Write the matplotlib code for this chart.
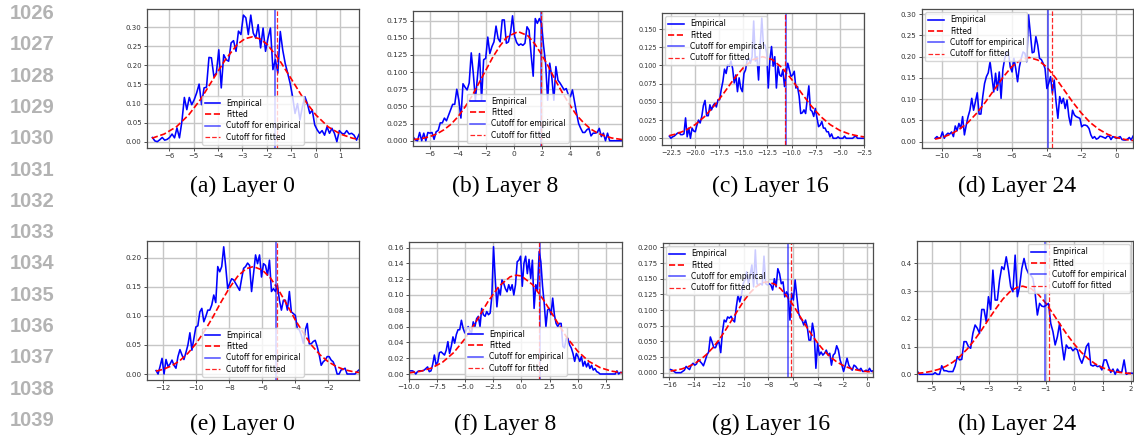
import matplotlib.pyplot as plt
import numpy as np
from matplotlib.ticker import MultipleLocator

# ---- data ----
captions = ['(a) Layer 0', '(b) Layer 8', '(c) Layer 16', '(d) Layer 24',
            '(e) Layer 0', '(f) Layer 8', '(g) Layer 16', '(h) Layer 24']
line_numbers = list(range(1026, 1040))

# empirical densities (evenly spaced bins between the given start/end)
emp_a = [0.011, 0.002, 0.0, 0.005, 0.011, 0.004, 0.006, 0.011, 0.02, 0.01,
         0.036, 0.01, 0.053, 0.116, 0.084, 0.116, 0.097, 0.11, 0.128, 0.151,
         0.097, 0.141, 0.143, 0.221, 0.22, 0.171, 0.18, 0.241, 0.141, 0.228,
         0.215, 0.211, 0.259, 0.265, 0.237, 0.29, 0.281, 0.332, 0.325, 0.281,
         0.332, 0.285, 0.272, 0.307, 0.246, 0.298, 0.237, 0.272, 0.298, 0.189,
         0.215, 0.18,
         0.289, 0.24, 0.205, 0.18, 0.153, 0.118, 0.074, 0.10, 0.057, 0.092,
         0.118, 0.10, 0.074, 0.083, 0.044, 0.031, 0.022, 0.029, 0.017, 0.039,
         0.022, 0.035, 0.022, 0.0, 0.029, 0.022, 0.02, 0.029, 0.02, 0.022,
         0.017, 0.004, 0.019]
emp_b = [0.005, 0.001, 0.0, 0.012, 0.0, 0.011, 0.0, 0.012, 0.011, 0.012,
         0.002, 0.013, 0.015, 0.026, 0.026, 0.033, 0.029, 0.037, 0.045, 0.053,
         0.053, 0.075, 0.059, 0.033, 0.083, 0.078, 0.074, 0.084, 0.128, 0.098,
         0.059, 0.093, 0.127, 0.059, 0.118, 0.12, 0.151, 0.127, 0.137, 0.144,
         0.167, 0.149, 0.144, 0.176, 0.176, 0.142, 0.144, 0.157, 0.182, 0.152,
         0.143, 0.139, 0.141, 0.139, 0.142, 0.166, 0.161, 0.125, 0.094, 0.178,
         0.171, 0.178, 0.171, 0.139, 0.113, 0.059, 0.113, 0.093, 0.059, 0.108,
         0.088, 0.084, 0.079, 0.074, 0.076, 0.067, 0.064, 0.074, 0.057, 0.04,
         0.025, 0.018, 0.012, 0.012, 0.016, 0.018, 0.007, 0.011, 0.011, 0.012,
         0.018, 0.006, 0.011, 0.0, 0.011, 0.0, 0.0, 0.0, 0.0, 0.0, 0.0, 0.0]
emp_c = [0.003, 0.0, 0.002, 0.003, 0.005, 0.007, 0.008, 0.005, 0.005, 0.006,
         0.028, 0.002, 0.014, 0.0, 0.014, 0.01, 0.009, 0.018, 0.025, 0.021,
         0.03, 0.045, 0.052, 0.031, 0.031, 0.046, 0.039, 0.045, 0.048, 0.043,
         0.053, 0.053, 0.067, 0.078, 0.095, 0.089, 0.101, 0.099, 0.106, 0.096,
         0.076, 0.087, 0.064, 0.083, 0.069, 0.064, 0.089, 0.094, 0.108, 0.110,
         0.103, 0.112, 0.161, 0.106, 0.112, 0.080, 0.126, 0.165, 0.128, 0.128,
         0.117, 0.069, 0.108, 0.126, 0.099, 0.112, 0.069, 0.099, 0.087, 0.085,
         0.094, 0.071, 0.089, 0.103, 0.094, 0.085, 0.087, 0.092, 0.069, 0.071,
         0.058, 0.034, 0.035, 0.039, 0.034, 0.053, 0.072, 0.039, 0.037, 0.03,
         0.041, 0.028, 0.016, 0.018, 0.023, 0.014, 0.014, 0.009, 0.009, 0.002,
         0.006, 0.0, 0.0, 0.0, 0.002, 0.0, 0.0, 0.0, 0.003, 0.0,
         0.0, 0.0, 0.0, 0.0, 0.002, 0.003, 0.0, 0.0, 0.0, 0.0, 0.0]
emp_d = [0.008, 0.012, 0.008, 0.010, 0.023, 0.008, 0.016, 0.020, 0.018, 0.023,
         0.012, 0.037, 0.026, 0.043, 0.031, 0.059, 0.016, 0.039, 0.059, 0.074,
         0.102, 0.074, 0.094, 0.115, 0.065, 0.065, 0.106, 0.137, 0.153, 0.162,
         0.188, 0.153, 0.117, 0.161, 0.121, 0.164, 0.102, 0.170, 0.196, 0.211,
         0.211, 0.176, 0.164, 0.196, 0.172, 0.141, 0.176, 0.196, 0.211, 0.208,
         0.188, 0.298, 0.254, 0.209, 0.211, 0.247, 0.227, 0.196, 0.193, 0.184,
         0.172, 0.125, 0.137, 0.153, 0.114, 0.145, 0.094, 0.055, 0.106, 0.090,
         0.102, 0.078, 0.098, 0.059, 0.039, 0.074, 0.063, 0.059, 0.057, 0.055,
         0.035, 0.039, 0.039, 0.037, 0.031,
         0.016, 0.008, 0.012, 0.006, 0.008, 0.013, 0.012, 0.010, 0.008, 0.013,
         0.013, 0.005, 0.012, 0.010, 0.008, 0.010, 0.012, 0.005, 0.004, 0.004,
         0.006, 0.010, 0.004, 0.013]
emp_e = [0.006, 0.0, 0.013, 0.027, 0.0, 0.025, 0.013, 0.017, 0.024, 0.015,
         0.01, 0.030, 0.042, 0.033, 0.025, 0.037, 0.050, 0.071, 0.041, 0.061,
         0.081, 0.083, 0.107, 0.113, 0.090, 0.099, 0.110, 0.110, 0.119, 0.136,
         0.123, 0.185, 0.176, 0.185, 0.219, 0.185, 0.147, 0.156, 0.164, 0.162,
         0.156, 0.150, 0.144, 0.164, 0.182, 0.185, 0.191, 0.187, 0.142, 0.173,
         0.205, 0.190, 0.205, 0.167, 0.190, 0.187, 0.170, 0.196, 0.142, 0.147,
         0.142, 0.153, 0.127, 0.110, 0.127, 0.127, 0.110, 0.142, 0.107, 0.104,
         0.101, 0.078, 0.076, 0.067, 0.053, 0.076, 0.087, 0.052, 0.052, 0.056,
         0.058, 0.047, 0.033, 0.015, 0.021, 0.024, 0.030, 0.030, 0.024, 0.021,
         0.013, 0.0, 0.0, 0.007, 0.008, 0.010, 0.0, 0.0, 0.0, 0.0,
         0.0, 0.004, 0.007]
emp_f = [0.004, 0.004, 0.004, 0.003, 0.0, 0.003, 0.004, 0.004, 0.004, 0.005,
         0.007, 0.009, 0.003, 0.004, 0.012, 0.024, 0.012, 0.015, 0.027, 0.028,
         0.026, 0.024, 0.03, 0.041, 0.026, 0.035, 0.047, 0.039, 0.05, 0.056,
         0.056, 0.068, 0.058, 0.052, 0.056, 0.060, 0.055, 0.052, 0.066, 0.060,
         0.07, 0.073, 0.06, 0.083, 0.075, 0.073, 0.079, 0.075, 0.077, 0.098,
         0.161, 0.121, 0.085, 0.108, 0.100, 0.119, 0.115, 0.108, 0.104, 0.113,
         0.106, 0.113, 0.100, 0.113, 0.142, 0.144, 0.149, 0.111, 0.140, 0.149,
         0.127, 0.145, 0.121, 0.144, 0.083, 0.113, 0.106, 0.155, 0.142, 0.111,
         0.089, 0.060, 0.081, 0.083, 0.075, 0.096, 0.075, 0.064, 0.060, 0.064,
         0.064, 0.035, 0.033, 0.045, 0.045, 0.037, 0.033, 0.026, 0.016, 0.026,
         0.022, 0.016, 0.022, 0.010, 0.016, 0.009, 0.014, 0.007, 0.011, 0.005,
         0.007,
         0.003, 0.002, 0.0, 0.0, 0.0, 0.0, 0.0, 0.0, 0.0, 0.0,
         0.0, 0.0, 0.004, 0.0, 0.002, 0.002]
emp_g = [0.005, 0.004, 0.002, 0.0, 0.0, 0.0, 0.0, 0.002, 0.004, 0.010,
         0.007, 0.005, 0.012, 0.015, 0.012, 0.014, 0.021, 0.018, 0.015, 0.011,
         0.019, 0.028,
         0.033, 0.057, 0.049, 0.040, 0.040, 0.047, 0.049, 0.032, 0.065, 0.084,
         0.081, 0.089, 0.087, 0.090, 0.084, 0.081, 0.105, 0.124, 0.113, 0.124,
         0.142, 0.148, 0.161, 0.142, 0.156, 0.172, 0.137, 0.196, 0.142, 0.140,
         0.142, 0.140, 0.186, 0.142, 0.140, 0.142, 0.140, 0.132, 0.150, 0.137,
         0.166, 0.158, 0.142, 0.145, 0.121, 0.129, 0.124, 0.084, 0.127, 0.116,
         0.148, 0.121, 0.095, 0.087, 0.084, 0.076, 0.084, 0.073, 0.052, 0.052,
         0.079, 0.063, 0.007, 0.047, 0.028, 0.033, 0.028, 0.031, 0.036, 0.028,
         0.031, 0.012, 0.028, 0.031, 0.043, 0.036, 0.020, 0.012, 0.002, 0.012,
         0.023, 0.012,
         0.007, 0.004, 0.012, 0.010, 0.006, 0.004, 0.007, 0.002, 0.002, 0.004,
         0.002, 0.007, 0.002, 0.003]
emp_h = [0.012, 0.0, 0.0, 0.0, 0.0, 0.0, 0.0, 0.0, 0.006, 0.0, 0.0, 0.031,
         0.013, 0.013, 0.01, 0.01, 0.01, 0.03, 0.064, 0.052, 0.054, 0.118,
         0.118, 0.1, 0.094, 0.148, 0.178, 0.166, 0.148, 0.234, 0.234, 0.19,
         0.28, 0.234, 0.376, 0.268, 0.268, 0.34, 0.388, 0.378, 0.424, 0.376,
         0.316, 0.298, 0.43, 0.28, 0.316, 0.382, 0.418, 0.382, 0.364, 0.358,
         0.346, 0.292, 0.214, 0.256, 0.246, 0.244, 0.25, 0.256, 0.184, 0.154,
         0.106, 0.136, 0.184, 0.112, 0.052, 0.106, 0.094, 0.097, 0.085, 0.094,
         0.088, 0.058, 0.04, 0.064, 0.1, 0.112, 0.034, 0.03, 0.034, 0.028,
         0.03, 0.016, 0.052, 0.052, 0.028, 0.007, 0.019, 0.0, 0.019, 0.007,
         0.01, 0.052, 0.0, 0.004, 0.004, 0.004]

# first and last bin centre of each empirical series
emp_span = [(-6.68, 1.76), (-7.19, 7.74), (-22.67, -2.5), (-10.38, 0.95),
            (-12.44, -0.14), (-10.0, 8.95), (-15.9, 0.46), (-5.5, 2.07)]

# fitted normal curves, sampled
fit_x_a = [-6.7, -6.2, -5.7, -5.2, -4.7, -4.2, -3.7, -3.2, -2.9, -2.6,
           -2.3, -2.0, -1.5, -1.0, -0.5, 0.0, 0.5, 1.0, 1.5, 1.76]
fit_y_a = [0.009, 0.020, 0.039, 0.070, 0.112, 0.164, 0.215, 0.256, 0.270, 0.275,
           0.270, 0.256, 0.215, 0.164, 0.112, 0.070, 0.039, 0.020, 0.009, 0.006]
fit_x_b = [-7.2, -6.5, -6, -5.5, -5, -4.5, -4, -3.5, -3, -2.5,
           -2, -1.5, -1, -0.5, 0.3, 1, 1.5, 2, 2.5, 3,
           3.5, 4, 4.5, 5, 5.5, 6, 6.5, 7, 7.74]
fit_y_b = [0.0016, 0.0036, 0.0061, 0.0101, 0.016, 0.024, 0.035, 0.049, 0.065, 0.084,
           0.103, 0.122, 0.138, 0.151, 0.159, 0.153, 0.141, 0.125, 0.107, 0.087,
           0.069, 0.052, 0.037, 0.026, 0.017, 0.011, 0.007, 0.004, 0.0017]
fit_x_c = [-22.67, -22, -21, -20, -19, -18, -17, -16, -15, -14, -13,
           -12, -11, -10, -9, -8, -7, -6, -5, -4, -3, -2.5]
fit_y_c = [0.0037, 0.0058, 0.0108, 0.0187, 0.030, 0.045, 0.0625, 0.081, 0.097, 0.108, 0.112,
           0.108, 0.097, 0.081, 0.0625, 0.045, 0.030, 0.0187, 0.0108, 0.0058, 0.0029, 0.002]
fit_x_d = [-10.38, -10, -9.5, -9, -8.5, -8, -7.5, -7, -6.5, -6, -5.5, -5,
           -4.5, -4, -3.5, -3, -2.5, -2, -1.5, -1, -0.5, 0, 0.5, 0.95]
fit_y_d = [0.006, 0.0098, 0.0173, 0.029, 0.045, 0.067, 0.093, 0.122, 0.151, 0.176, 0.192, 0.198,
           0.192, 0.176, 0.151, 0.122, 0.093, 0.067, 0.045, 0.029, 0.0173, 0.0098, 0.0052, 0.0028]
fit_x_e = [-12.44, -12, -11.5, -11, -10.5, -10, -9.5, -9, -8.5, -8, -7.5, -7, -6.55,
           -6, -5.5, -5, -4.5, -4, -3.5, -3, -2.5, -2, -1.5, -1, -0.5, -0.14]
fit_y_e = [0.0049, 0.0082, 0.014, 0.023, 0.036, 0.053, 0.074, 0.098, 0.124, 0.148, 0.168, 0.181, 0.185,
           0.179, 0.165, 0.144, 0.119, 0.093, 0.070, 0.049, 0.033, 0.021, 0.0127, 0.0073, 0.004, 0.0025]
fit_x_f = [-10, -9, -8, -7, -6, -5, -4, -3, -2, -1, -0.45,
           0, 1, 2, 3, 4, 5, 6, 7, 8, 8.95]
fit_y_f = [0.0014, 0.0034, 0.0075, 0.0151, 0.0274, 0.045, 0.067, 0.091, 0.111, 0.123, 0.125,
           0.124, 0.113, 0.093, 0.070, 0.047, 0.029, 0.016, 0.0081, 0.0037, 0.0016]
fit_x_g = [-15.9, -15, -14.5, -14, -13.5, -13, -12.5, -12, -11.5, -11,
           -10.5, -10, -9.5, -9, -8.5, -8.1, -7.5, -7, -6.5, -6,
           -5.5, -5, -4.5, -4, -3.5, -3, -2.5, -2, -1.5, -1,
           -0.5, 0, 0.46]
fit_y_g = [0.0025, 0.0059, 0.0093, 0.014, 0.0205, 0.029, 0.0395, 0.052, 0.0667, 0.0825,
           0.0985, 0.114, 0.127, 0.137, 0.1435, 0.145, 0.1415, 0.134, 0.122, 0.108,
           0.092, 0.076, 0.0607, 0.047, 0.035, 0.0253, 0.0177, 0.0119, 0.0078, 0.0049,
           0.003, 0.0018, 0.0011]
fit_x_h = [-5.5, -5.25, -5, -4.75, -4.5, -4.25, -4, -3.75, -3.5, -3.25,
           -3, -2.75, -2.5, -2.25, -2, -1.8, -1.5, -1.25, -1, -0.75,
           -0.5, -0.25, 0, 0.25, 0.5, 0.75, 1, 1.25, 1.5, 1.75, 2.07]
fit_y_h = [0.0035, 0.0063, 0.011, 0.018, 0.029, 0.044, 0.065, 0.091, 0.123, 0.159,
           0.198, 0.236, 0.271, 0.298, 0.314, 0.318, 0.309, 0.288, 0.258, 0.221,
           0.182, 0.144, 0.110, 0.080, 0.056, 0.0375, 0.024, 0.0149, 0.0088, 0.005, 0.0023]

cut_empirical = [-1.69, 1.93, -10.55, -3.94, -5.17, 1.68, -6.38, -1.03]
cut_fitted = [-1.59, 1.97, -10.7, -3.71, -5.14, 1.55, -6.18, -0.88]

# ---- layout (pixels in the 1134x437 figure) ----
W, H = 1134, 437
boxes = [(147, 9, 359, 148), (413, 11, 622, 146), (662, 13, 864, 145), (922, 9, 1133, 148),
         (147, 241, 359, 380), (409, 242, 622, 379), (663, 243, 873, 377), (917, 241, 1133, 381)]
xlims = [(-6.9, 1.76), (-7.22, 7.74), (-23.43, -2.5), (-11.13, 0.95),
         (-12.99, -0.14), (-10.0, 8.95), (-16.51, 0.46), (-5.51, 2.07)]
ylims = [(-0.0166, 0.348), (-0.0077, 0.189), (-0.0092, 0.172), (-0.0148, 0.312),
         (-0.0103, 0.229), (-0.0063, 0.167), (-0.0069, 0.207), (-0.024, 0.481)]
xsteps = [1, 2, 2.5, 2, 2, 2.5, 2, 1]
ysteps = [0.05, 0.025, 0.025, 0.05, 0.05, 0.02, 0.025, 0.1]
tick_fs = [5.0, 5.4, 4.7, 5.1, 5.2, 5.3, 5.0, 5.0]
legend_loc = ['lower center', 'lower center', 'upper left', 'upper left',
              'lower center', 'lower center', 'upper left', 'upper right']
caption_x = [242, 505, 770, 1017, 242, 505, 771, 1017]
caption_y = [186, 186, 186, 186, 424, 424, 424, 424]

emp_series = [emp_a, emp_b, emp_c, emp_d, emp_e, emp_f, emp_g, emp_h]
fit_series = [(fit_x_a, fit_y_a), (fit_x_b, fit_y_b), (fit_x_c, fit_y_c), (fit_x_d, fit_y_d),
              (fit_x_e, fit_y_e), (fit_x_f, fit_y_f), (fit_x_g, fit_y_g), (fit_x_h, fit_y_h)]

fig = plt.figure(figsize=(W / 100, H / 100), dpi=100)

for i in range(8):
    l, t, r, b = boxes[i]
    ax = fig.add_axes([l / W, 1 - b / H, (r - l) / W, (b - t) / H])
    emp = emp_series[i]
    xe = np.linspace(emp_span[i][0], emp_span[i][1], len(emp))
    fx, fy = fit_series[i]

    ax.plot(xe, emp, color='blue', lw=1.15, label='Empirical')
    ax.plot(fx, fy, color='red', ls='--', lw=1.2, label='Fitted')
    ax.axvline(cut_empirical[i], color='blue', lw=1.1, alpha=0.7, label='Cutoff for empirical')
    ax.axvline(cut_fitted[i], color='red', ls='--', lw=0.9, alpha=0.85, label='Cutoff for fitted')

    ax.set_xlim(*xlims[i])
    ax.set_ylim(*ylims[i])
    ax.xaxis.set_major_locator(MultipleLocator(xsteps[i]))
    ax.yaxis.set_major_locator(MultipleLocator(ysteps[i]))
    ax.grid(True, color='#c6c6c6', lw=1.0)
    ax.set_axisbelow(True)
    ax.tick_params(labelsize=tick_fs[i], length=2.2, width=0.6, pad=1.6,
                   colors='#333333')
    for sp in ax.spines.values():
        sp.set_color('#4d4d4d')
        sp.set_linewidth(0.9)
    ax.legend(loc=legend_loc[i], fontsize=5.5, framealpha=0.8, edgecolor='#cccccc',
              labelspacing=0.3, borderaxespad=0.45)

    fig.text(caption_x[i] / W, 1 - caption_y[i] / H, captions[i],
             ha='center', va='center', fontsize=17, family='Liberation Serif')

for k, num in enumerate(line_numbers):
    fig.text(32 / W, 1 - (13.5 + k * 31.3) / H, str(num), ha='center', va='center',
             fontsize=14.5, fontweight='bold', color='#b3b3b3', family='Liberation Sans')

fig.savefig('out.png', dpi=100)
